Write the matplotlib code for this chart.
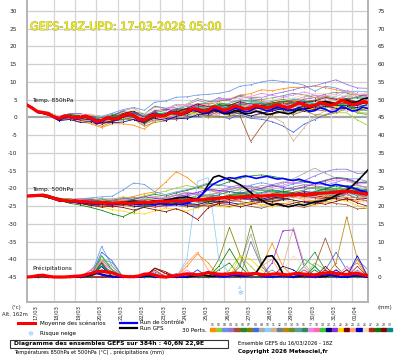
import matplotlib
matplotlib.use('Agg')
import matplotlib.pyplot as plt
import matplotlib.patheffects as pe
from matplotlib.lines import Line2D
from matplotlib.patches import Rectangle
import numpy as np

# ---------------- data ----------------
hours6 = np.arange(0, 385, 6)
hours12 = np.arange(0, 385, 12)
day_labels = ['17/03', '18/03', '19/03', '20/03', '21/03', '22/03', '23/03', '24/03',
              '25/03', '26/03', '27/03', '28/03', '29/03', '30/03', '31/03', '01/04']
left_ticks = list(range(-45, 31, 5))
right_ticks = list(range(0, 76, 5))

mean850 = [3.5, 2.6, 1.6, 1.4, 1.0, 0.2, -0.3, 0.4, 0.3, -0.2,
           0.0, 0.4, -0.2, -1.2, -0.9, -0.1, -0.3, -0.4, 0.4, 1.0,
           0.6, -0.6, -0.8, 0.4, 0.8, 0.3, 0.6, 1.4, 1.2, 0.9,
           1.6, 2.4, 2.3, 1.7, 2.0, 3.0, 2.6, 2.0, 2.4, 3.2,
           2.8, 2.3, 2.7, 3.3, 3.0, 2.7, 3.0, 3.6, 3.1, 2.8,
           3.3, 4.1, 3.6, 3.1, 3.4, 4.2, 3.8, 3.4, 3.8, 4.8,
           4.3, 3.6, 3.8, 4.4, 4.2]
ctrl850 = [3.6, 2.7, 1.4, 1.2, 1.1, 0.0, -0.8, 0.2, 0.1, -0.6,
           -0.3, 0.2, -0.5, -1.8, -1.3, -0.3, -0.5, -0.7, 0.2, 1.2,
           0.3, -1.0, -1.2, 0.5, 1.1, 0.4, 0.9, 1.8, 1.4, 0.8,
           1.2, 2.0, 1.8, 1.2, 1.5, 2.4, 2.0, 1.3, 1.8, 2.6,
           2.2, 1.5, 1.9, 2.8, 2.4, 1.8, 2.2, 3.0, 2.5, 1.9,
           2.1, 2.8, 2.4, 1.6, 1.9, 2.7, 2.3, 1.5, 1.8, 3.0,
           2.6, 1.8, 2.0, 2.9, 2.5]
gfs850 = [3.5, 2.8, 1.6, 1.3, 1.2, 0.3, -0.4, 0.5, 0.4, -0.1,
          0.1, 0.5, -0.1, -1.0, -0.8, 0.0, -0.2, -0.2, 0.6, 1.1,
          0.7, -0.4, -0.6, 0.6, 1.0, 0.5, 0.7, 1.5, 1.3, 0.8,
          1.3, 2.1, 1.8, 1.2, 1.3, 2.2, 1.7, 1.0, 1.2, 2.0,
          1.6, 1.0, 1.2, 1.8, 1.4, 0.8, 1.0, 1.6, 1.3, 1.0,
          1.4, 2.3, 2.5, 2.6, 3.2, 4.1, 4.5, 4.0, 3.8, 4.6,
          4.8, 4.2, 4.4, 5.2, 5.5]

mean500 = [-22.2, -22.1, -22.0, -21.9, -22.3, -22.8, -23.2, -23.4, -23.6, -23.6,
           -23.7, -23.8, -23.9, -24.1, -24.0, -24.1, -24.2, -24.1, -24.0, -24.2,
           -24.1, -24.0, -23.9, -24.0, -23.8, -23.7, -23.8, -23.6, -23.5, -23.6,
           -23.4, -23.3, -23.3, -23.2, -23.0, -22.9, -22.8, -22.6, -22.5, -22.6,
           -22.4, -22.3, -22.3, -22.1, -22.2, -22.1, -22.0, -21.9, -22.0, -21.9,
           -21.8, -21.7, -21.8, -21.6, -21.5, -21.4, -21.3, -21.2, -21.1, -20.9,
           -20.8, -21.0, -21.3, -21.5, -21.6]
ctrl500 = [-22.1, -22.0, -21.9, -22.0, -22.5, -23.0, -23.4, -23.6, -23.8, -23.7,
           -23.9, -24.1, -24.3, -24.5, -24.2, -24.4, -24.6, -24.3, -24.0, -24.2,
           -24.3, -24.5, -24.2, -24.4, -24.6, -24.3, -24.5, -24.7, -24.4, -24.6,
           -24.2, -23.6, -22.8, -21.5, -20.0, -18.8, -18.0, -17.4, -17.0, -17.2,
           -16.8, -16.5, -16.8, -17.2, -16.9, -16.6, -17.0, -17.4, -17.2, -17.6,
           -17.8, -17.4, -17.9, -18.2, -18.6, -18.4, -18.9, -19.3, -18.9, -19.2,
           -19.5, -19.8, -20.3, -20.8, -21.2]
gfs500 = [-22.2, -22.0, -21.9, -21.8, -22.2, -22.6, -23.0, -23.3, -23.5, -23.4,
          -23.6, -23.8, -24.0, -24.2, -24.0, -23.9, -24.1, -24.3, -24.0, -23.8,
          -23.6, -23.8, -24.0, -23.7, -23.5, -23.6, -23.3, -23.1, -22.8, -22.6,
          -22.4, -22.8, -23.0, -21.5, -19.0, -16.9, -16.4, -17.0, -17.6, -18.2,
          -19.0, -20.0, -21.2, -22.4, -23.3, -24.2, -24.7, -24.3, -24.8, -25.2,
          -24.9, -24.5, -24.8, -24.3, -23.8, -23.6, -23.3, -22.8, -22.0, -21.2,
          -20.5, -19.4, -18.0, -16.4, -14.8]

mean_rr = [0.0, 0.1, 0.4, 0.5, 0.2, 0.0, 0.0, 0.0, 0.1, 0.2,
           0.3, 0.6, 1.0, 1.5, 1.6, 1.4, 1.2, 0.6, 0.2, 0.1,
           0.1, 0.3, 0.8, 0.9, 0.5, 0.1, 0.0, 0.2, 0.4, 0.6,
           0.9, 0.8, 0.6, 0.9, 1.2, 1.0, 0.8, 0.7, 0.9, 1.1,
           1.0, 0.8, 0.9, 1.0, 0.7, 0.6, 0.8, 0.9, 0.7, 0.6,
           0.9, 1.0, 0.8, 0.7, 0.6, 0.9, 1.1, 1.3, 1.0, 0.8,
           0.7, 0.9, 1.1, 0.6, 0.4]
ctrl_rr = [0, 0, 0.2, 0.3, 0, 0, 0, 0, 0, 0,
           0, 0.3, 0.8, 1.2, 0.6, 0.3, 0.1, 0, 0, 0,
           0, 0, 0.3, 0.5, 0, 0, 0, 0, 0, 0,
           0.2, 0.5, 0.3, 0.8, 1.5, 0.6, 0.2, 0, 0.3, 0.6,
           0.4, 0.2, 0.5, 0.9, 0.3, 0, 0, 0.2, 0.3, 0.1,
           0, 0.4, 0.6, 0.2, 0, 0.3, 0.7, 0.5, 0.2, 0,
           0, 0.3, 0.5, 0.2, 0]
gfs_rr = [0, 0, 0.1, 0.3, 0, 0, 0, 0, 0, 0,
          0, 0.2, 0.5, 1.0, 0.8, 0.4, 0.2, 0, 0, 0,
          0, 0, 0.2, 0.3, 0, 0, 0, 0, 0, 0,
          0, 0.2, 0.4, 0.6, 0.3, 0.2, 0.5, 1.0, 0.8, 0.4,
          0.3, 0.6, 0.9, 1.2, 3.5, 5.8, 6.0, 4.0, 1.0, 0.3,
          0, 0.2, 0.4, 0.5, 0.3, 0, 0.2, 0.5, 0.3, 0,
          0, 0.2, 0.4, 0.2, 0]

# members (12 h steps): deviation of each perturbation from the ensemble mean
pert_dev850 = [
    [0,0.2,-0.1,-0.5,-0.8,-1.2,-1.6,-2.0,-1.5,-2.2,-2.8, -2.5,-1.8,-1.0,-0.5,0.5,1.0,1.5,2.0,2.8,3.5,4.0, 4.8,4.5,5.0,5.2,4.8,5.5,4.6,4.0,3.0,2.5,2.0],
    [0,0.1,0.3,0.2,0.5,0.3,0.8,0.5,1.0,0.6,0.4, 0.9,0.5,0.2,-0.3,-0.8,-1.2,-1.5,-1.0,-1.8,-2.2,-1.5, -1.0,-0.5,-1.2,-2.0,-1.6,-0.8,-1.5,-2.5,-3.0,-4.5,-6.5],
    [0,0.2,0.4,0.6,0.8,1.0,0.8,1.2,1.5,1.8,2.2, 2.8,3.5,4.0,4.5,4.2,4.0,4.5,4.2,5.0,6.0,6.5, 7.0,7.5,7.0,6.5,5.5,4.0,5.0,4.5,3.0,3.5,3.0],
    [0,-0.1,0.2,0.4,0.0,-0.3,0.3,0.6,0.2,0.5,1.0, 0.6,1.2,1.5,1.0,2.0,2.5,2.0,3.0,2.5,3.5,3.0, 2.5,3.5,4.0,4.5,5.0,5.5,6.0,6.8,5.0,4.5,4.0],
    [0,-0.2,-0.3,0.1,-0.4,-0.6,-0.2,-0.8,-0.5,-1.0,-1.2, -0.8,-1.5,-1.0,-1.8,-1.4,-2.0,-1.5,-1.0,-1.8,-2.5,-9.5, -5.5,-2.0,-1.5,-2.5,-1.8,-1.2,-2.0,-1.5,-1.0,-2.2,-1.5],
    [0,0.1,-0.2,0.3,0.5,0.2,0.6,0.9,0.4,1.0,0.8, 1.3,0.9,1.5,1.2,0.8,1.5,2.0,1.6,1.0,1.8,2.2, 1.5,1.0,0.5,1.2,0.6,-0.2,0.5,-0.5,-1.0,-0.3,-0.8],
    [0,-0.1,0.1,-0.3,-0.2,0.4,0.0,-0.5,-0.9,-0.4,0.2, -0.6,-1.0,-0.5,0.3,0.8,0.2,-0.5,-1.0,-0.4,0.5,1.2, 0.8,1.5,2.0,1.4,0.8,1.5,2.2,1.6,1.0,1.8,2.5],
    [0,0.2,0.1,-0.2,-0.5,0.3,-0.1,-0.6,-0.2,0.4,0.8, 0.3,-0.5,-1.0,-0.4,-1.2,-2.0,-1.5,-2.2,-2.8,-2.0,-3.0, -3.5,-4.2,-5.5,-7.5,-5.5,-4.0,-3.0,-2.0,-1.5,-0.5,0.5],
    [0,0.3,0.5,0.2,0.8,0.5,1.0,1.2,0.8,1.5,2.0, 1.6,2.2,1.8,2.5,2.0,1.5,2.2,2.8,2.2,1.5,2.0, 1.2,0.6,1.0,1.6,2.2,2.8,2.0,1.4,2.0,2.6,2.0],
    [0,-0.3,-0.5,-0.2,0.2,-0.5,-0.9,-0.4,0.3,-0.2,-0.8, -1.4,-0.8,-0.2,0.5,1.0,0.6,0.0,-0.6,-1.2,-0.6,0.2, 1.0,1.8,2.5,2.0,1.2,0.6,1.4,2.2,3.0,3.6,3.0],
    [0,0.1,-0.2,-0.4,0.0,0.4,0.1,-0.3,-0.8,-1.2,-0.6, -1.0,-1.8,-1.2,-0.5,-1.0,-1.6,-2.2,-1.5,-1.0,-1.8,-2.5, -2.0,-2.8,-4.5,-10.0,-6.5,-3.0,-2.0,-1.5,-2.5,-1.8,-1.0],
    [0,0.2,0.4,0.1,-0.3,0.2,0.6,0.3,0.9,1.4,1.0, 1.8,2.4,2.0,1.6,2.2,3.0,2.5,2.0,2.6,3.2,2.6, 2.0,2.5,3.0,3.5,2.8,2.2,2.8,3.3,2.6,2.0,1.5],
    [0,-0.2,-0.4,-0.6,-0.3,-0.8,-1.2,-1.6,-1.0,-0.5,-1.1, -1.7,-2.2,-1.6,-1.0,-0.4,-1.0,-1.8,-2.5,-2.0,-1.4,-0.8, -1.5,-2.2,-1.6,-1.0,-1.8,-2.6,-3.2,-2.5,-1.8,-2.5,-3.0],
    [0,0.1,0.3,0.6,0.2,-0.2,0.4,0.8,1.2,0.6,0.1, 0.7,1.2,0.8,0.2,-0.4,0.2,0.8,1.5,1.0,0.4,-0.2, 0.5,1.2,0.6,0.0,-0.6,0.2,0.8,0.3,-0.5,-1.2,-0.6],
    [0,-0.1,0.0,0.2,-0.2,-0.5,-0.2,0.3,0.6,0.2,-0.3, -0.8,-0.3,0.4,1.0,1.5,1.0,0.4,1.0,1.6,2.2,1.8, 1.2,0.6,1.2,1.8,1.2,0.5,-0.2,0.5,1.0,0.5,-0.3],
    [0,0.2,0.0,-0.3,0.1,0.5,0.2,-0.2,-0.6,-1.0,-0.5, 0.1,0.6,0.2,-0.4,-1.0,-0.6,0.1,0.7,1.2,0.8,0.2, -0.4,-1.0,-0.4,0.2,0.8,1.3,0.6,0.0,-0.8,-0.2,0.5],
    [0,0.3,0.1,0.4,0.7,0.3,0.8,1.1,0.7,0.3,0.9, 1.4,1.0,1.6,2.2,1.8,1.2,1.8,2.4,3.0,2.5,3.2, 3.8,3.2,2.6,3.0,3.6,2.9,2.3,2.8,3.4,2.8,2.2],
    [0,-0.2,0.1,-0.1,-0.5,-0.2,0.3,0.0,-0.4,0.1,0.5, 0.0,-0.6,-1.0,-0.5,0.2,-0.4,-1.0,-1.6,-1.0,-0.4,-1.1, -1.8,-1.2,-0.6,0.0,0.6,-0.2,-0.8,-1.5,-0.8,-0.2,0.4],
    [0,0.1,0.4,0.2,-0.2,0.2,0.7,0.4,0.0,0.6,1.1, 0.6,0.1,0.7,0.2,-0.4,0.3,0.9,0.4,-0.2,-0.8,-0.2, 0.5,-0.2,-0.9,-0.3,0.4,-0.4,-1.1,-0.5,-1.5,-2.5,-3.5],
    [0,-0.1,-0.3,-0.6,-0.9,-1.4,-1.0,-0.6,-1.2,-1.7,-1.2, -0.7,-0.2,-0.8,-1.4,-2.0,-1.5,-1.0,-0.5,-1.0,-1.6,-2.3, -1.8,-1.2,-0.6,-1.2,-1.8,-1.2,-0.6,-1.2,-1.8,-1.0,-0.5],
    [0,0.2,0.4,0.2,0.6,1.0,0.6,0.2,0.7,1.2,0.8, 0.4,1.0,1.6,1.2,0.6,1.1,0.5,0.0,0.6,1.2,0.6, 0.0,-0.5,0.2,0.8,1.5,2.2,1.6,1.0,1.7,2.4,1.8],
    [0,-0.1,-0.2,0.1,0.4,0.1,-0.3,-0.7,-0.3,0.2,-0.2, -0.6,-1.1,-0.5,0.1,-0.5,-1.1,-0.6,-0.1,-0.7,-1.3,-0.8, -0.2,0.4,-0.2,-0.8,-1.4,-0.8,-0.2,-0.8,-1.5,-2.2,-1.6],
    [0,0.0,-0.2,0.0,0.3,0.6,0.2,-0.2,0.3,0.8,1.2, 0.8,0.3,-0.2,0.4,1.0,1.5,1.0,0.5,1.0,1.6,1.0, 0.4,1.0,1.6,1.2,0.6,1.2,1.8,1.3,0.8,0.2,-0.4],
    [0,0.2,0.5,0.3,-0.1,0.3,0.8,0.5,0.1,-0.4,0.2, 0.7,0.3,-0.2,-0.8,-0.3,0.3,0.8,0.4,-0.2,0.4,1.0, 1.6,1.0,0.5,1.1,1.7,2.3,1.6,1.0,1.6,2.4,3.0],
    [0,-0.2,-0.1,-0.4,-0.2,0.2,-0.2,-0.5,-0.9,-0.4,0.1, -0.5,-1.0,-1.5,-0.9,-0.4,0.2,-0.3,-0.9,-1.5,-0.9,-0.3, 0.3,-0.3,-0.9,-1.6,-1.0,-0.4,0.2,-0.4,-1.0,-0.4,0.2],
    [0,0.1,0.3,0.6,0.3,0.8,1.2,0.8,0.4,1.0,1.5, 2.0,1.5,1.0,1.6,2.2,2.8,2.2,1.6,2.2,2.8,3.4, 2.8,2.2,1.6,2.2,2.8,3.4,3.0,2.4,1.8,2.4,3.0],
    [0,-0.1,0.2,-0.1,-0.4,-0.8,-0.4,0.0,0.5,0.0,-0.5, -1.0,-0.5,0.0,0.5,0.1,-0.4,-0.9,-0.3,0.3,-0.2,-0.7, -0.2,0.4,1.0,0.4,-0.2,-0.8,-0.2,0.4,1.0,0.5,0.0],
    [0,0.2,0.0,0.3,0.6,0.2,-0.2,0.3,0.8,0.3,-0.2, -0.7,-0.2,0.4,0.9,0.4,-0.1,0.5,1.1,0.6,0.1,-0.4, 0.2,0.8,1.4,0.8,0.2,-0.3,0.3,-0.3,-0.9,-1.6,-2.2],
    [0,-0.2,-0.4,-0.1,0.2,-0.2,-0.6,-1.0,-0.6,-0.2,0.3, -0.2,-0.7,-0.2,0.3,0.8,0.3,-0.2,-0.7,-1.2,-0.7,-0.2, 0.4,0.0,-0.5,-1.0,-0.4,0.2,0.8,0.3,-0.3,0.3,0.9],
    [0,0.1,0.3,0.0,-0.3,0.1,0.5,0.9,0.5,0.1,0.6, 1.1,0.6,0.1,-0.4,0.2,0.7,1.2,0.7,0.2,0.8,1.4, 0.9,0.3,-0.3,0.3,0.9,0.3,-0.3,0.4,1.1,1.7,1.1],
]
pert_dev500 = [
    [0,0.1,0.2,0.0,-0.3,0.2,0.5,0.3,0.8,1.2,1.8, 2.4,2.8,5.5,8.2,6.5,4.0,2.5,1.5,0.8,0.2,-0.5, -1.2,-1.8,-1.2,-0.6,-1.4,-2.0,-1.5,-0.8,-1.6,-2.4,-1.8],
    [0,0.1,0.2,0.4,0.1,0.5,0.9,0.5,1.1,1.6,1.2, 1.8,2.4,3.0,3.6,4.2,3.5,2.8,2.2,1.6,2.2,2.8, 2.2,1.6,1.0,1.6,2.2,1.6,1.0,0.4,1.0,1.6,2.2],
    [0,0.2,0.3,0.1,0.4,0.8,1.2,1.6,2.0,3.5,5.6, 5.0,2.8,2.0,2.5,3.0,3.8,4.5,3.8,3.0,2.5,3.2, 3.8,3.0,2.4,3.0,3.6,2.8,2.2,2.8,3.4,4.0,3.5],
    [0,-0.1,0.1,0.4,0.2,-0.2,0.3,0.7,0.3,-0.2,0.4, 0.9,0.5,1.1,1.6,1.2,1.8,2.4,2.0,2.8,3.4,2.8, 2.2,3.0,3.8,3.2,4.0,5.0,6.0,6.5,6.2,5.5,6.0],
    [0,0.1,-0.2,-0.4,-0.1,-0.5,-0.9,-0.6,-1.1,-0.7,-0.2, -0.8,-1.4,-1.0,-0.5,-1.2,-1.8,-1.2,-2.0,-2.6,-2.0,-2.8, -3.4,-2.8,-2.2,-3.0,-3.6,-3.0,-2.4,-3.2,-3.8,-4.5,-4.0],
    [0,0.1,0.3,0.1,-0.2,0.2,0.6,0.3,0.8,1.3,0.9, 1.5,2.1,1.6,2.2,2.8,3.5,4.2,3.6,4.4,5.2,5.8, 6.0,5.4,4.8,4.2,3.6,3.0,3.6,4.2,3.6,3.0,3.4],
    [0,-0.1,0.1,-0.2,-0.4,-0.1,0.3,-0.2,-0.6,-0.2,0.3, -0.2,-0.7,-1.2,-0.6,0.0,-0.6,-1.2,-0.6,0.0,0.6,0.0, -0.6,-1.2,-0.6,0.0,0.6,0.0,-0.6,-1.2,-1.8,-1.2,-0.6],
    [0,0.2,0.0,-0.3,0.1,0.5,0.1,-0.4,0.2,0.7,0.2, -0.3,0.3,0.9,0.4,-0.2,0.5,1.1,0.6,0.0,-0.6,0.0, 0.7,1.3,0.8,0.2,-0.4,-1.0,-0.4,0.2,0.8,0.2,-0.4],
    [0,0.2,0.0,0.3,0.6,0.3,-0.1,0.4,0.9,0.5,0.1, 0.7,1.3,0.8,1.5,2.0,1.5,1.0,1.6,2.2,1.6,2.4, 3.0,2.5,3.5,4.5,6.0,7.2,5.5,4.0,3.2,2.5,3.0],
    [0,-0.2,0.0,0.2,-0.1,-0.5,-0.1,0.4,0.0,-0.5,-1.0, -0.5,0.1,0.6,0.1,-0.5,-1.1,-0.5,0.1,0.7,0.2,-0.4, -1.0,-1.6,-1.0,-0.4,0.2,0.8,0.2,-0.4,-1.0,-0.4,0.2],
    [0,0.0,-0.2,0.1,0.3,0.0,-0.4,-0.8,-0.4,0.1,-0.4, -0.9,-1.4,-0.8,-0.3,-0.8,-1.4,-2.0,-1.4,-0.8,-1.4,-2.0, -2.6,-2.0,-1.4,-2.0,-2.6,-2.0,-1.4,-2.2,-2.8,-2.0,-1.2],
    [0,0.1,0.3,0.0,-0.2,0.2,0.6,1.0,0.5,1.0,1.5, 1.0,0.5,1.1,1.6,2.2,1.6,1.0,1.6,2.2,2.8,2.2, 1.6,1.0,1.6,2.2,2.8,2.2,1.6,1.0,1.6,2.2,1.6],
    [0,-0.1,-0.3,-0.5,-0.2,-0.6,-1.0,-0.6,-0.2,-0.7,-1.2, -0.7,-0.2,-0.7,-1.3,-1.9,-1.3,-0.7,-0.1,-0.7,-1.3,-1.9, -1.3,-0.7,-0.1,0.5,-0.1,-0.7,-1.3,-0.7,-0.1,0.5,1.1],
    [0,0.2,0.1,0.4,0.7,0.3,-0.1,0.3,0.8,0.3,-0.2, 0.4,1.0,0.5,0.0,0.6,1.2,0.7,0.1,0.7,1.3,0.7, 0.1,-0.5,0.1,0.7,1.3,1.9,1.3,0.7,0.1,0.7,1.3],
    [0,-0.1,0.2,0.0,-0.3,0.1,0.4,0.0,-0.5,0.0,0.5, 1.0,0.5,0.0,-0.5,0.1,0.7,0.2,-0.4,0.2,0.8,1.4, 0.8,0.2,0.8,1.4,2.0,1.4,0.8,0.2,0.8,1.4,0.8],
    [0,0.1,-0.1,-0.3,0.0,0.4,0.0,-0.4,-0.9,-0.4,0.1, -0.4,-0.9,-0.4,0.2,0.7,0.2,-0.4,-1.0,-0.4,0.2,-0.4, -1.0,-1.6,-1.0,-0.4,0.2,-0.4,-1.0,-0.4,0.2,0.8,0.2],
    [0,0.2,0.4,0.2,0.5,0.9,0.5,1.0,1.4,1.0,0.5, 1.1,1.6,1.1,1.7,2.3,1.7,1.1,1.7,2.3,2.9,2.3, 1.7,2.3,2.9,3.5,2.9,2.3,2.9,3.5,2.9,2.3,1.7],
    [0,-0.1,0.1,-0.2,-0.5,-0.2,0.2,-0.3,-0.8,-0.3,0.2, -0.3,-0.9,-1.5,-0.9,-0.3,0.3,-0.3,-0.9,-1.5,-0.9,-0.3, 0.3,0.9,0.3,-0.3,-0.9,-0.3,0.3,-0.3,-0.9,-1.5,-0.9],
    [0,0.1,0.0,0.3,0.6,0.2,0.7,1.1,0.6,0.1,0.6, 1.2,0.6,0.0,-0.6,0.0,0.6,1.2,0.6,0.0,0.6,1.2, 1.8,1.2,0.6,0.0,-0.6,0.0,0.6,1.2,0.6,0.0,-0.6],
    [0,0.0,-0.2,-0.4,-0.1,-0.5,-0.9,-0.4,0.1,-0.4,-0.9, -1.4,-0.9,-0.4,-0.9,-1.5,-2.1,-1.5,-0.9,-1.5,-2.1,-1.5, -0.9,-0.3,-0.9,-1.5,-2.1,-2.7,-2.1,-1.5,-0.9,-1.5,-2.1],
    [0,0.2,0.1,-0.1,0.2,0.6,1.0,0.5,0.0,0.5,1.0, 1.5,1.0,0.5,1.0,1.6,2.2,2.8,2.2,1.6,1.0,1.6, 2.2,2.8,2.2,1.6,2.2,2.8,3.4,4.0,3.4,2.8,3.4],
    [0,-0.2,-0.4,-0.2,0.1,-0.3,-0.7,-1.2,-1.8,-2.4,-3.0, -3.3,-2.6,-1.8,-2.4,-3.0,-2.2,-1.5,-2.2,-2.9,-2.2,-1.6, -2.4,-3.2,-2.5,-1.9,-2.6,-3.3,-2.6,-2.0,-2.8,-3.5,-4.2],
    [0,-0.1,0.1,0.3,0.0,-0.4,-0.1,0.3,-0.2,-0.7,-0.2, 0.3,-0.2,-0.7,-1.2,-0.6,0.0,-0.6,-1.2,-0.6,0.0,-0.6, -1.2,-1.8,-1.2,-0.6,0.0,-0.6,-1.2,-1.8,-2.4,-1.8,-1.2],
    [0,0.1,0.3,0.5,0.2,0.6,1.0,0.6,0.2,0.7,0.2, -0.3,0.3,0.8,0.3,-0.3,0.3,0.9,0.3,-0.3,-0.9,-0.3, 0.3,0.9,0.3,-0.3,-0.9,-1.5,-0.9,-0.3,-0.9,-1.5,-2.1],
    [0,-0.2,-0.1,0.1,-0.2,-0.6,-0.2,0.2,0.6,0.2,-0.3, -0.8,-0.3,0.2,-0.3,-0.8,-1.3,-0.8,-0.3,0.2,-0.3,-0.8, -1.3,-0.8,-0.3,0.3,0.9,0.3,-0.3,-0.9,-0.3,0.3,0.9],
    [0,0.1,-0.1,0.2,0.5,0.1,-0.3,0.2,0.6,0.2,0.7, 1.2,0.7,0.2,-0.3,0.2,0.7,0.2,-0.3,-0.9,-0.3,0.2, 0.7,0.2,-0.3,-0.9,-1.5,-0.9,-0.3,-0.9,-1.5,-2.1,-2.7],
    [0,-0.1,-0.3,-0.1,0.2,-0.2,-0.6,-1.0,-0.5,0.0,-0.5, -1.0,-1.5,-1.0,-0.5,-1.0,-1.5,-2.0,-1.5,-1.0,-0.5,-1.0, -1.5,-1.0,-0.5,0.1,-0.5,-1.1,-1.7,-1.1,-0.5,0.1,-0.5],
    [0,-0.1,-0.3,-0.2,-0.6,-1.0,-1.5,-2.2,-3.0,-4.0,-2.5, -1.2,-0.6,-1.0,-0.4,0.2,-0.3,-0.8,-0.2,0.4,1.0,0.5, -0.2,0.5,1.2,0.6,0.0,0.6,1.2,1.8,1.2,0.6,1.2],
    [0,0.1,-0.1,-0.3,-0.1,-0.5,-0.9,-1.3,-0.8,-1.4,-2.0, -1.5,-2.2,-2.8,-2.2,-3.5,-5.5,-2.5,-1.5,-2.0,-2.8,-2.2, -1.6,-2.4,-3.0,-2.4,-1.8,-2.5,-3.2,-2.6,-2.0,-2.8,-3.5],
    [0,0.2,0.4,0.2,-0.1,0.3,0.7,0.3,-0.2,0.3,0.8, 0.3,-0.2,0.4,1.0,0.4,-0.2,0.4,1.0,1.6,1.0,0.4, 1.0,1.6,1.0,0.4,-0.2,0.4,1.0,0.4,-0.2,-0.8,-0.2],
]
pert_rr = [
    [0,0.5,0,0,0,0,1,4,2,0,0, 0,0,0,0,3,6.5,4,0,0,0,0, 3,9.5,3,0,0,0,0,0,2,4,0],
    [0,0,0,0,0,0,0,3,1.5,0,0, 0,0,1,0,0,0,0,0,2,6,3, 0,0,0,0,0,4,2,0,0,0,0],
    [0,0,0,0,0,0,0.5,8.6,3,0,0, 0,1,0,0,0,2,0,0,0,0,0, 0,0,0,0,0,0,0,0,0,2,0],
    [0,0,0,0,0,0,2,5,2,0,0, 0,0,0,1,0,0,0,0,0,0,0, 0,0,0,0,0,0,0,2,0,5,2],
    [0,0,0,0,0,0,0,2,0,0,0, 0,2.5,1,0,0,0,0,0,0,0,0, 0,0,0,0,0,3,11,3,0,0,0],
    [0,0,0,0,0,0,0,6,2,0,0, 0,0,0,0,0,0,0,2,4,0,0, 0,0,0,0,2,0,0,0,0,0,0],
    [0,0,0,0,0,0,1,3,0,0,0, 0,0,0,0,0,0,0,5,14,6,0, 0,0,0,0,0,0,0,0,0,1,0],
    [0,0,0,0,0,0,0,7,4.5,0,0, 0,0,0,0,0,2,0,0,0,0,0, 0,0,0,0,0,0,2,7,2,0,0],
    [0,0,0,0,0,0,0,5,3,0,0, 0,0,0,0,0,0,0,0,0,4,12, 3,0,0,0,0,0,0,0,0,0,0],
    [0,0,0,0,0,0,0,4,0,0,0, 0,0,0,0,5,27,28,5,1,0,0, 0,0,0,0,0,0,0,0,0,0,0],
    [0,0,0,0,0,0,0,2,0,0,0, 0,0,0,0,0,0,0,0,0,0,0, 0,0,3,14,4,0,0,0,2,0,0],
    [0,0,0,0,0,0,0,3.5,0,0,0, 0,1.5,0,0,0,0,0,0,0,0,10, 3,0,0,0,0,0,0,0,0,0,0],
    [0,0,0,0,0,0,0,2,0,0,0, 0,0,0,0,0,0,0,0,0,0,0, 0,0,0,0,0,0,0,4,17,5,0],
    [0,0,0,0,0,0,0,4,0,0,0, 0,0,0,0,0,0,0,0,0,3,14.5, 4,0,0,0,0,0,0,0,0,0,0],
    [0,0,0,0,0,0,0,5,4,0,0, 0,0,0,0,0,1,0,0,0,0,0, 0,2,0,0,0,0,0,0,0,0,0],
    [0,0,0,0,0,0,0,3,0,0,0, 0,0,0,0,0,0,0,0,0,0,0, 0,0,0,0,3,7,2,0,0,0,0],
    [0,0,0,0,0,0,0,4,2,0,0, 0,0,0,0,2,0,0,0,0,0,0, 0,0,0,0,0,0,0,0,3,0,0],
    [0,0,0,0,0,0,2,4.5,0,0,0, 0,0,1,0,0,0,0,0,0,0,0, 0,0,0,0,2,0,0,0,0,0,0],
    [0,0,0,0,0,0,0,6,2,0,0, 0,0,0,0,0,0,0,0,0,0,0, 0,0,0,0,5,3,0,0,0,0,0],
    [0,0,0,0,0,0,0,2,1,0,0, 0,0,0,0,0,0,0,0,0,0,0, 0,0,3,2,0,0,0,0,0,0,0],
    [0,0,0,0,0,0,0,4,0,0,0, 0,0,0,0,0,0,0,0,0,0,0, 0,4,13,13.3,3,0,0,0,0,0,0],
    [0,0,0,0,0,0,0,2,0,0,0, 0,0,0,0,0,0,0,0,0,6,5, 2,0,0,0,0,0,0,0,0,0,0],
    [0,0,0,0,0,0,0,0,0,0,0, 0,2.5,1,0,0,0,0,0,0,0,0, 0,0,0,0,0,0,3,0,0,0,0],
    [0,0,0,0,0,0,0,5,0,0,0, 0,0,0,0,4,7,2,0,0,0,0, 3,5,0,0,0,0,0,0,0,0,0],
    [0,0,0,0,0,0,0,3,0,0,0, 0,0,0,0,0,0,0,0,0,0,0, 0,0,0,0,0,0,0,2,0,6,0],
    [0,0,0,0,0,0,0,2,0,0,0, 0,0,0,0,0,0,0,0,0,0,0, 0,0,2,6,3,0,0,0,0,0,0],
    [0,0,0,0,0,0,0,0,0,0,0, 0,2,0,0,0,0,0,0,0,0,0, 0,0,0,0,0,0,2,0,0,3,0],
    [0,0,0,0,0,0,0,4,0,0,0, 0,0,0,0,0,0,0,3,8,3,0, 0,0,0,0,0,2,0,0,0,0,0],
    [0,0,0,0,0,0,0,0,0,0,0, 0,2.5,1.5,0,0,0,0,0,0,0,0, 0,0,0,0,0,0,0,0,2,0,0],
    [0,0,0,0,0,0,0,3,1.5,0,0, 0,0,0,0,0,0,0,0,0,0,0, 0,0,0,0,0,3,0,0,0,0,0],
]
pert_colors = ['#ff8c00', '#9acd32', '#6495ed', '#9370db', '#a0522d', '#228b22',
               '#808000', '#4169e1', '#a9a9a9', '#87cefa', '#d2b48c', '#708090',
               '#b8860b', '#6b8e23', '#5f9ea0', '#2e8b57', '#ee82ee', '#ff69b4',
               '#32cd32', '#000080', '#8a2be2', '#ffd700', '#800000', '#ffa07a',
               '#0000cd', '#f5deb3', '#b22222', '#008000', '#8b0000', '#008b8b']
snow_hours = [240]
snow_pct = [25]

# ---------------- figure ----------------
W, H = 395, 355
fig = plt.figure(figsize=(W / 100, H / 100), dpi=100)
fig.patch.set_facecolor('white')

def fx(x):
    return x / W

def fy(y):
    return 1 - y / H

L, R, T, B = 27, 368, 0, 302
ax = fig.add_axes([fx(L), fy(B), (R - L) / W, (B - T) / H])
Y0, Y1 = -52.05, 33.1
ax.set_xlim(0, 384)
ax.set_ylim(Y0, Y1)
ax.set_facecolor('white')

# grid
for y in left_ticks:
    ax.axhline(y, color='#a8a8a8' if y == 0 else '#cfcfcf',
               lw=1.6 if y == 0 else 0.9, zorder=0.5)
for i in range(1, len(day_labels)):
    ax.axvline(6 + 24 * i, color='#d6d6d6', lw=0.9, zorder=0.5)

for sp in ['top']:
    ax.spines[sp].set_visible(False)
for sp in ['left', 'right', 'bottom']:
    ax.spines[sp].set_color('#b4b4b4')
    ax.spines[sp].set_linewidth(1.4)

ax.set_xticks([])
ax.set_yticks(left_ticks)
ax.set_yticklabels([str(v) for v in left_ticks])
ax.tick_params(axis='y', length=0, pad=7.0, labelsize=4.2, labelcolor='#222222')

ax2 = ax.twinx()
ax2.set_ylim(Y0 + 45, Y1 + 45)
ax2.set_yticks(right_ticks)
ax2.set_yticklabels([str(v) for v in right_ticks])
ax2.tick_params(axis='y', length=0, pad=7.0, labelsize=4.2, labelcolor='#222222')
for sp in ax2.spines.values():
    sp.set_visible(False)

m850_12 = np.array(mean850)[::2]
m500_12 = np.array(mean500)[::2]

for i in range(30):
    c = pert_colors[i]
    kw = dict(color=c, lw=0.55, marker='.', ms=1.6, mew=0, zorder=2)
    ax.plot(hours12, m850_12 + np.array(pert_dev850[i]), **kw)
    ax.plot(hours12, m500_12 + np.array(pert_dev500[i]), **kw)
    ax.plot(hours12, -45 + np.array(pert_rr[i]), **kw)

for series, off in [(gfs850, 0), (gfs500, 0), (gfs_rr, -45)]:
    ax.plot(hours6, np.array(series) + off, color='black', lw=1.2, zorder=3)
for series, off in [(ctrl850, 0), (ctrl500, 0), (ctrl_rr, -45)]:
    ax.plot(hours6, np.array(series) + off, color='#0000ff', lw=1.2, zorder=3.5)
for series, off in [(mean850, 0), (mean500, 0), (mean_rr, -45)]:
    ax.plot(hours6, np.array(series) + off, color='#ff0000', lw=2.3, zorder=4)

# snow risk
for h, p in zip(snow_hours, snow_pct):
    ax.text(h, -49.6, '\u2744', color='#7fbfff', fontsize=5, ha='center', va='center', zorder=5)
    ax.text(h, -48.0, str(p), color='#7fbfff', fontsize=2.6, ha='center', va='center', zorder=5)

# section labels
ax.text(6, 4.8, 'Temp. 850hPa', fontsize=4.2, color='#111111', va='center', zorder=6)
ax.text(6, -20.3, 'Temp. 500hPa', fontsize=4.2, color='#111111', va='center', zorder=6)
ax.text(6, -42.6, 'Précipitations', fontsize=4.2, color='#111111', va='center', zorder=6)

# date labels
for i, lab in enumerate(day_labels):
    ax.annotate(lab, xy=(6 + 24 * i, 0), xycoords=('data', 'axes fraction'),
                xytext=(3, -3), textcoords='offset pixels', rotation=90,
                ha='center', va='top', fontsize=3.7, color='#222222', annotation_clip=False)

# title
fig.text(fx(30), fy(27), 'GEFS-18Z-UPD: 17-03-2026 05:00', fontsize=8.1, color='#f2f21c',
         va='center', ha='left',
         path_effects=[pe.withStroke(linewidth=0.6, foreground='#a6a640')])

# side texts
fig.text(fx(12), fy(307), '(°c)', fontsize=3.8, va='center', ha='left', color='#222222')
fig.text(fx(2), fy(315), 'Alt. 162m', fontsize=3.8, va='center', ha='left', color='#222222')
fig.text(fx(378), fy(307), '(mm)', fontsize=3.8, va='center', ha='left', color='#222222')

# legend
fig.add_artist(Line2D([fx(18), fx(35)], [fy(323), fy(323)], color='#ff0000', lw=2.2))
fig.text(fx(40), fy(323), 'Moyenne des scénarios', fontsize=4.1, va='center', ha='left')
fig.add_artist(Line2D([fx(120), fx(137)], [fy(322.5), fy(322.5)], color='#0000ff', lw=1.6))
fig.text(fx(140), fy(322), 'Run de contrôle', fontsize=4.1, va='center', ha='left')
fig.add_artist(Line2D([fx(120), fx(137)], [fy(328), fy(328)], color='black', lw=1.6))
fig.text(fx(140), fy(328), 'Run GFS', fontsize=4.1, va='center', ha='left')
fig.text(fx(30), fy(334), '\u2744', fontsize=5, color='#7fbfff', va='center', ha='center')
fig.text(fx(40), fy(334), 'Risque neige', fontsize=4.1, va='center', ha='left')
fig.text(fx(182), fy(330), '30 Perts.', fontsize=4.1, va='center', ha='left')
sw0, sww = 210, 6.1
for i, c in enumerate(pert_colors):
    x0 = sw0 + i * sww
    fig.add_artist(Rectangle((fx(x0), fy(331.2)), (sww - 1) / W, 3.2 / H, color=c,
                             transform=fig.transFigure))
    fig.text(fx(x0 + (sww - 1) / 2), fy(324.5), '%02d' % (i + 1), fontsize=2.2,
             va='center', ha='center', color='#222222')

# bottom box
fig.add_artist(Rectangle((fx(10), fy(348)), 218 / W, 8.5 / H, fill=False,
                         edgecolor='#333333', lw=0.8, transform=fig.transFigure))
fig.text(fx(14), fy(344), 'Diagramme des ensembles GEFS sur 384h : 40,6N 22,9E',
         fontsize=4.3, fontweight='bold', va='center', ha='left')
fig.text(fx(14), fy(352), 'Températures 850hPa et 500hPa (°C) , précipitations (mm)',
         fontsize=3.7, va='center', ha='left')
fig.text(fx(238), fy(342.7), 'Ensemble GEFS du 16/03/2026 - 18Z',
         fontsize=3.7, va='center', ha='left')
fig.text(fx(238), fy(351.5), 'Copyright 2026 Meteociel,fr',
         fontsize=4.1, fontweight='bold', va='center', ha='left')

fig.savefig('out.png', dpi=100)
